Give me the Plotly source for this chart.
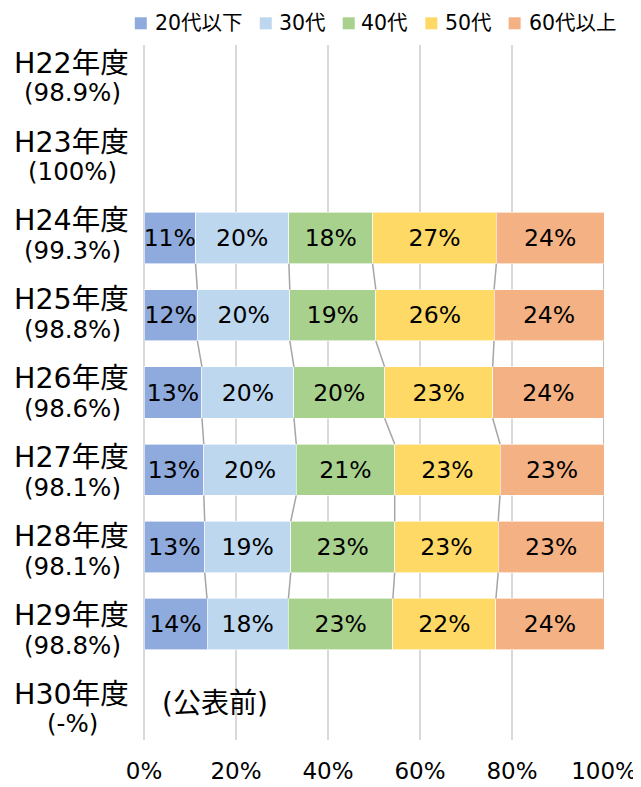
import plotly.graph_objects as go

categories = ["H22年度", "H23年度", "H24年度", "H25年度", "H26年度",
              "H27年度", "H28年度", "H29年度", "H30年度"]
response_rates = ["(98.9%)", "(100%)", "(99.3%)", "(98.8%)", "(98.6%)",
                  "(98.1%)", "(98.1%)", "(98.8%)", "(-%)"]
series_names = ["20代以下", "30代", "40代", "50代", "60代以上"]
colors = ["#8FAADC", "#BDD7EE", "#A9D18E", "#FFD966", "#F4B183"]

age_20 = [None, None, 11.2, 11.6, 12.6, 13.0, 13.2, 13.7, None]
age_30 = [None, None, 20.3, 20.1, 20.0, 20.1, 18.7, 17.7, None]
age_40 = [None, None, 18.2, 18.7, 19.7, 21.4, 22.6, 22.7, None]
age_50 = [None, None, 26.9, 25.7, 23.5, 22.9, 22.5, 22.4, None]
age_60 = [None, None, 23.4, 23.9, 24.2, 22.6, 23.0, 23.5, None]

lab_20 = ["", "", "11%", "12%", "13%", "13%", "13%", "14%", ""]
lab_30 = ["", "", "20%", "20%", "20%", "20%", "19%", "18%", ""]
lab_40 = ["", "", "18%", "19%", "20%", "21%", "23%", "23%", ""]
lab_50 = ["", "", "27%", "26%", "23%", "23%", "23%", "22%", ""]
lab_60 = ["", "", "24%", "24%", "24%", "23%", "23%", "24%", ""]

note_text = "(公表前)"
x_ticks = [0, 20, 40, 60, 80, 100]
x_tick_labels = ["0%", "20%", "40%", "60%", "80%", "100%"]

values = [age_20, age_30, age_40, age_50, age_60]
labels = [lab_20, lab_30, lab_40, lab_50, lab_60]

FONT = "DejaVu Sans, Noto Sans CJK JP, sans-serif"
OFF = 8  # page body margin offset
W, H = 641 - OFF, 787 - OFF
ML, MR, MT, MB = 143.5 - OFF, 37.3, 45 - OFF, 47
PW = W - ML - MR
PH = H - MT - MB
ypos = list(range(len(categories)))
BAR_W = 0.665


def px_x(p):  # window pixel -> paper x
    return (p - OFF - ML) / PW


def px_y(p):  # window pixel -> paper y
    return 1 - (p - OFF - MT) / PH


fig = go.Figure()
for name, vals, labs, col in zip(series_names, values, labels, colors):
    fig.add_trace(go.Bar(
        name=name, x=vals, y=ypos, orientation="h", width=BAR_W,
        marker=dict(color=col, line=dict(color="rgba(255,255,255,0.6)", width=1)),
        text=labs, textposition="inside", insidetextanchor="middle",
        constraintext="none", textangle=0,
        textfont=dict(family=FONT, size=23.5, color="#000000"),
        hoverinfo="skip", showlegend=False,
    ))

# connector lines between consecutive bars (series lines)
rows = [i for i in ypos if age_20[i] is not None]
cum = {}
for i in rows:
    s, c = 0.0, []
    for v in values:
        s += v[i]
        c.append(s)
    cum[i] = c
cx, cy = [], []
for a, b in zip(rows[:-1], rows[1:]):
    for k in range(len(series_names)):
        cx += [cum[a][k], cum[b][k], None]
        cy += [a + BAR_W / 2, b - BAR_W / 2, None]
fig.add_trace(go.Scatter(x=cx, y=cy, mode="lines", showlegend=False,
                         line=dict(color="#A5A5A5", width=1.5), hoverinfo="skip"))

annotations = []
shapes = []
# category labels (two lines each)
for i, (cat, rate) in enumerate(zip(categories, response_rates)):
    up = 20.5 - 1.7 * i
    annotations.append(dict(x=px_x(71), xref="paper", y=i, yref="y", text=cat,
                            showarrow=False, xanchor="center", yanchor="middle",
                            yshift=up, font=dict(family=FONT, size=28.5, color="#000")))
    annotations.append(dict(x=px_x(71.5), xref="paper", y=i, yref="y", text=rate,
                            showarrow=False, xanchor="center", yanchor="middle",
                            yshift=up - 29.5, font=dict(family=FONT, size=24.5, color="#000")))
annotations.append(dict(x=3.4, xref="x", y=8, yref="y", text=note_text,
                        showarrow=False, xanchor="left", yanchor="middle", yshift=-2,
                        font=dict(family=FONT, size=28, color="#000")))

# legend
leg_sq = [134.3, 259.3, 342.3, 425.0, 508.3]
leg_tx = [152.2, 276.2, 359.0, 442.8, 526.2]
for name, col, sq, tx in zip(series_names, colors, leg_sq, leg_tx):
    shapes.append(dict(type="rect", xref="paper", yref="paper",
                       x0=px_x(sq), x1=px_x(sq + 12), y0=px_y(29.3), y1=px_y(17.3),
                       fillcolor=col, line=dict(width=0)))
    annotations.append(dict(x=px_x(tx), xref="paper", y=px_y(23.3), yref="paper",
                            text=name, showarrow=False, xanchor="left", yanchor="middle",
                            font=dict(family=FONT, size=20.5, color="#000")))

fig.update_layout(
    width=W, height=H,
    margin=dict(l=ML, r=MR, t=MT, b=MB, pad=0, autoexpand=False),
    paper_bgcolor="white", plot_bgcolor="white",
    barmode="stack",
    font=dict(family=FONT, color="#000"),
    showlegend=False,
    xaxis=dict(range=[0, 100], tickvals=x_ticks, ticktext=x_tick_labels,
               showgrid=True, gridcolor="#D9D9D9", gridwidth=2,
               zeroline=True, zerolinecolor="#D9D9D9", zerolinewidth=2,
               showline=False, ticks="", ticklabelstandoff=15, automargin=False,
               tickfont=dict(family=FONT, size=23, color="#000"), fixedrange=True),
    yaxis=dict(range=[len(categories) - 0.5, -0.5], showticklabels=False,
               showgrid=False, zeroline=False, showline=False, fixedrange=True,
               automargin=False),
    annotations=annotations,
    shapes=shapes,
)

fig.write_html("out.html")
